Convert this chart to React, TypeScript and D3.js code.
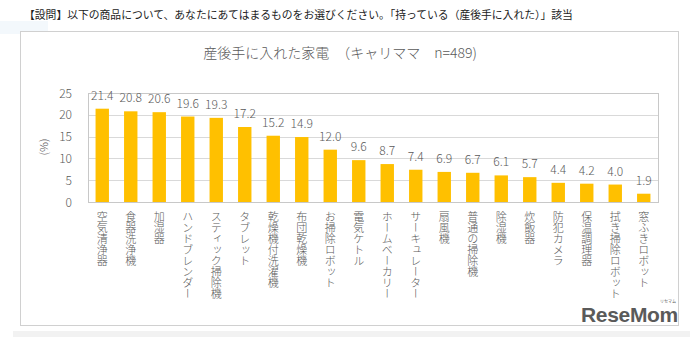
import React from "react";
import * as d3 from "d3";

const categories = [
  "空気清浄器", "食器洗浄機", "加湿器", "ハンドブレンダー", "スティック掃除機", "タブレット",
  "乾燥機付洗濯機", "布団乾燥機", "お掃除ロボット", "電気ケトル", "ホームベーカリー", "サーキュレーター",
  "扇風機", "普通の掃除機", "除湿機", "炊飯器", "防犯カメラ", "保温調理器", "拭き掃除ロボット", "窓ふきロボット",
];
const values = [21.4, 20.8, 20.6, 19.6, 19.3, 17.2, 15.2, 14.9, 12.0, 9.6, 8.7, 7.4, 6.9, 6.7, 6.1, 5.7, 4.4, 4.2, 4.0, 1.9];
const yTicks = [0, 5, 10, 15, 20, 25];
const headerText = "【設問】以下の商品について、あなたにあてはまるものをお選びください。「持っている（産後手に入れた）」該当";
const titleText = "産後手に入れた家電　（キャリママ　n=489)";

export default function App() {
  const W = 697, H = 337;
  const left = 88, right = 658, top = 93, bottom = 202;
  const x = d3.scaleBand<string>().domain(categories).range([left, right]).paddingInner(0.53).paddingOuter(0.265);
  const y = d3.scaleLinear().domain([0, 25]).range([bottom, top]);
  const font = "'Noto Sans CJK JP', 'Noto Sans', sans-serif";
  const gray = "#595959";
  return (
    <svg width={W} height={H} style={{ position: "fixed", left: 0, top: 0, background: "#fff" }} fontFamily={font}>
      <rect x={0} y={21} width={48} height={13} fill="#f3f8fc" />
      <rect x={13} y={331} width={677} height={6} fill="#f2f2f2" />
      <rect x={20.5} y={31.5} width={658} height={294} fill="#fff" stroke="#d0d0d0" />
      <text x={24} y={19} fontSize={10.8} fill="#222">{headerText}</text>
      <text x={340} y={58} fontSize={14} fill={gray} textAnchor="middle" fontWeight={300}>{titleText}</text>
      {yTicks.map((t) => (
        <g key={t}>
          <line x1={left} x2={right} y1={Math.round(y(t)) + 0.5} y2={Math.round(y(t)) + 0.5} stroke="#d9d9d9" />
          <text x={72} y={y(t) + 4.5} fontSize={12} fill={gray} textAnchor="end" fontWeight={300}>{t}</text>
        </g>
      ))}
      <rect x={left + 0.5} y={top + 0.5} width={right - left} height={bottom - top} fill="none" stroke="#c8c8c8" />
      <text transform={`translate(48,147) rotate(-90)`} fontSize={11} fill={gray} textAnchor="middle" fontWeight={300}>(%)</text>
      {categories.map((c, i) => (
        <g key={c}>
          <rect x={x(c)!} y={y(values[i])} width={x.bandwidth()} height={bottom - y(values[i])} fill="#FFC000" />
          <text x={x(c)! + x.bandwidth() / 2} y={y(values[i]) - 9} fontSize={12} fill={gray} textAnchor="middle" fontWeight={300}>
            {values[i].toFixed(1)}
          </text>
          <text x={x(c)! + x.bandwidth() / 2} y={211} fontSize={11} fill={gray} fontWeight={300}
            style={{ writingMode: "vertical-rl" }}>{c}</text>
        </g>
      ))}
      <text x={678} y={322} fontSize={21} fontWeight={700} fill="#5a5a5a" textAnchor="end" fontFamily="'Liberation Sans', Arial, sans-serif" letterSpacing={-0.3}>ReseMom</text>
      <text x={668} y={303} fontSize={4} fill="#5a5a5a" textAnchor="middle">リセマム</text>
    </svg>
  );
}
